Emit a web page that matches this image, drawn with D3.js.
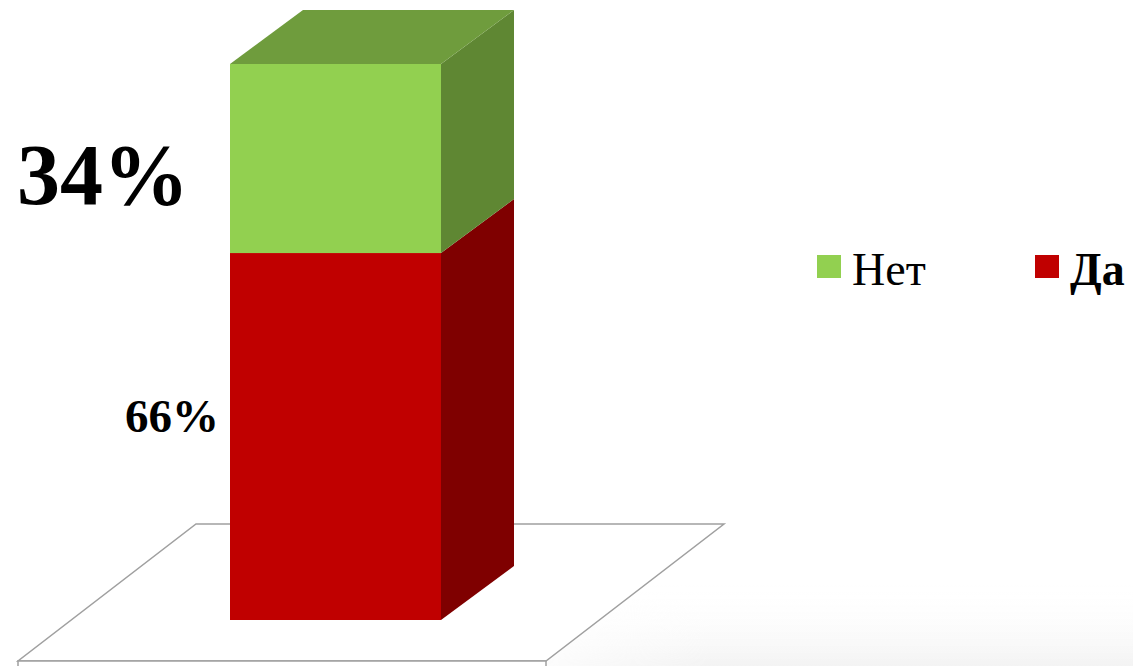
<!DOCTYPE html>
<html>
<head>
<meta charset="utf-8">
<script src="https://cdn.jsdelivr.net/npm/d3@7"></script>
<style>
  html, body { margin: 0; padding: 0; background: #ffffff; }
  svg { display: block; }
</style>
</head>
<body>
<svg id="chart" width="1133" height="666"></svg>
<script>
// Stacked segments, bottom to top
const seriesNames = ["Да", "Нет"];
const seriesValues = [66, 34];
const legendOrder = ["Нет", "Да"];
const category = ["Ответ"];

const frontColors = { "Да": "#c00000", "Нет": "#92d050" };
const sideColors  = { "Да": "#7f0000", "Нет": "#5f8733" };
const topColors   = { "Да": "#990000", "Нет": "#6f9c3d" };

const W = 1133, H = 666;
const FONT = "'Liberation Serif', 'Times New Roman', serif";
const svg = d3.select("#chart");

// 3D projection offset for depth
const DX = 73, DY = -54;

const x = d3.scaleBand().domain(category).range([230, 441]).padding(0);
const y = d3.scaleLinear().domain([0, 100]).range([620, 64]);

// faint haze in lower right
const defs = svg.append("defs");
const g1 = defs.append("linearGradient").attr("id", "haze").attr("x1", 0).attr("y1", 0).attr("x2", 0).attr("y2", 1);
g1.append("stop").attr("offset", "0%").attr("stop-color", "#ffffff").attr("stop-opacity", 0);
g1.append("stop").attr("offset", "100%").attr("stop-color", "#f3f3f3").attr("stop-opacity", 1);
const g2 = defs.append("linearGradient").attr("id", "hazeMask").attr("x1", 0).attr("y1", 0).attr("x2", 1).attr("y2", 0);
g2.append("stop").attr("offset", "0%").attr("stop-color", "#fff").attr("stop-opacity", 0);
g2.append("stop").attr("offset", "35%").attr("stop-color", "#fff").attr("stop-opacity", 1);
g2.append("stop").attr("offset", "100%").attr("stop-color", "#fff").attr("stop-opacity", 1);
const mask = defs.append("mask").attr("id", "hm");
mask.append("rect").attr("x", 480).attr("y", 585).attr("width", W - 480).attr("height", H - 585).attr("fill", "url(#hazeMask)");
svg.append("rect").attr("x", 480).attr("y", 585).attr("width", W - 480).attr("height", H - 585)
  .attr("fill", "url(#haze)").attr("mask", "url(#hm)");

// floor plate
const floor = { x0: 18, x1: 546, yFront: 661, thick: 8 };
const fd = { dx: 178, dy: -137 };
const floorG = svg.append("g").attr("fill", "#ffffff").attr("stroke", "#a0a0a0").attr("stroke-width", 1.5);
floorG.append("path").attr("d", d3.line()([
  [floor.x0, floor.yFront],
  [floor.x1, floor.yFront],
  [floor.x1 + fd.dx, floor.yFront + fd.dy],
  [floor.x0 + fd.dx, floor.yFront + fd.dy]
]) + "Z");
floorG.append("rect").attr("x", floor.x0).attr("y", floor.yFront)
  .attr("width", floor.x1 - floor.x0).attr("height", floor.thick);

// stacked bar
const stacked = [];
let acc = 0;
seriesNames.forEach((n, i) => {
  stacked.push({ name: n, value: seriesValues[i], y0: acc, y1: acc + seriesValues[i] });
  acc += seriesValues[i];
});

const bx0 = x(category[0]), bx1 = bx0 + x.bandwidth();
const barG = svg.append("g");
stacked.forEach(s => {
  const yb = y(s.y0), yt = y(s.y1);
  // side face
  barG.append("path")
    .attr("d", d3.line()([[bx1, yb], [bx1 + DX, yb + DY], [bx1 + DX, yt + DY], [bx1, yt]]) + "Z")
    .attr("fill", sideColors[s.name]);
  // front face
  barG.append("rect")
    .attr("x", bx0).attr("y", yt).attr("width", bx1 - bx0).attr("height", yb - yt)
    .attr("fill", frontColors[s.name]);
});
// top face of the topmost segment
const topSeg = stacked[stacked.length - 1];
barG.append("path")
  .attr("d", d3.line()([
    [bx0, y(topSeg.y1)], [bx1, y(topSeg.y1)],
    [bx1 + DX, y(topSeg.y1) + DY], [bx0 + DX, y(topSeg.y1) + DY]
  ]) + "Z")
  .attr("fill", topColors[topSeg.name]);

// value labels
const fmt = v => v + "%";
svg.append("text")
  .attr("x", 17).attr("y", 204)
  .attr("font-family", FONT)
  .attr("font-weight", "bold").attr("font-size", 86)
  .attr("fill", "#000")
  .text(fmt(seriesValues[seriesNames.indexOf("Нет")]));
svg.append("text")
  .attr("x", 219).attr("y", 432)
  .attr("text-anchor", "end")
  .attr("font-family", FONT)
  .attr("font-weight", "bold").attr("font-size", 47)
  .attr("fill", "#000")
  .text(fmt(seriesValues[seriesNames.indexOf("Да")]));

// legend
const legendPos = { "Нет": 817, "Да": 1035 };
const legendBold = { "Нет": "normal", "Да": "bold" };
const leg = svg.append("g");
legendOrder.forEach(n => {
  leg.append("rect").attr("x", legendPos[n]).attr("y", 255).attr("width", 24).attr("height", 23)
    .attr("fill", frontColors[n]);
  leg.append("text")
    .attr("x", legendPos[n] + 35).attr("y", 285)
    .attr("font-family", FONT)
    .attr("font-weight", legendBold[n]).attr("font-size", 46)
    .attr("fill", "#000")
    .text(n);
});
</script>
</body>
</html>
